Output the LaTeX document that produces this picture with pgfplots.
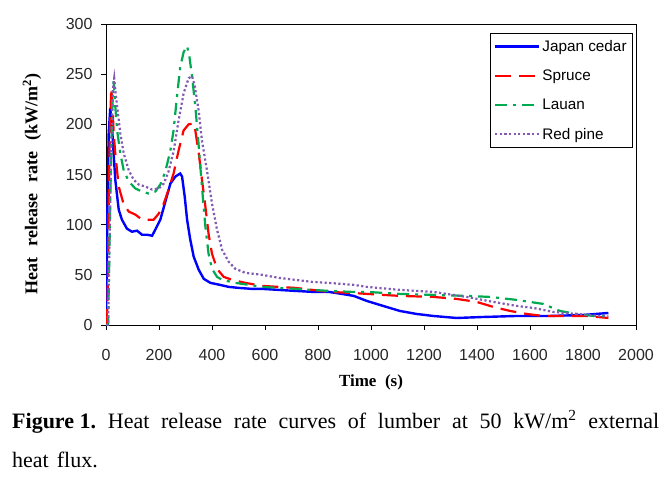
\documentclass[border=0pt]{standalone}
\usepackage{pgfplots}
\pgfplotsset{compat=1.18}
\usepackage{fontspec}
\setmainfont{Liberation Serif}
\newfontfamily\tickfont{Liberation Sans}

\definecolor{cJapan}{RGB}{0,0,255}
\definecolor{cSpruce}{RGB}{255,0,0}
\definecolor{cLauan}{RGB}{0,170,80}
\definecolor{cPine}{RGB}{130,90,180}

\begin{document}
\begin{tikzpicture}
\path[use as bounding box] (0pt,0pt) rectangle (671pt,-481pt);
\begin{axis}[
    at={(106pt,-325pt)}, anchor=south west,
    scale only axis,
    width=530pt, height=301pt,
    xmin=0, xmax=2000, ymin=0, ymax=300,
    xtick={0,200,...,2000},
    ytick={0,50,...,300},
    tick pos=left,
    tick align=outside,
    major tick length=5pt,
    axis line style={line width=0.9pt},
    every tick/.style={black, line width=0.9pt},
    ticklabel style={font=\tickfont\fontsize{16}{18}\selectfont, text=black!85},
    xticklabel style={yshift=-16pt},
    yticklabel style={xshift=-5pt},
    /pgf/number format/assume math mode=true,
    /pgf/number format/1000 sep={},
    legend style={at={(0.994,0.970)}, anchor=north east, draw=black,
        font=\tickfont\fontsize{15.3}{17}\selectfont,
        inner xsep=4pt, inner ysep=5pt, row sep=13pt},
    legend cell align=left,
    legend image code/.code={\path[draw, #1] (0pt,0pt) -- (44pt,0pt);},
]
\addplot[color=cJapan, solid, line width=2.4pt] coordinates {
(0,0) (5,110) (10,190) (16,216) (22,200) (29,170) (35,145) (48,115) (60,105)
(79,96) (98,93) (117,94) (136,90) (155,90) (174,89) (186,95) (205,105)
(224,123) (243,141) (262,148) (280,151) (287,148) (297,128) (306,105)
(318,85) (331,68) (350,55) (369,46) (394,42) (430,40) (463,38) (500,37)
(550,36) (589,36) (650,35) (714,34) (780,33) (840,33) (890,31) (935,29)
(984,24) (1046,19) (1109,14) (1172,11) (1235,9) (1323,7) (1424,8)
(1550,9) (1675,9) (1801,10) (1896,12)
};
\addlegendentry{Japan cedar}
\addplot[color=cSpruce, line width=2.2pt, dash pattern=on 16pt off 8pt] coordinates {
(0,0) (6,20) (10,120) (15,200) (20,236) (25,215) (29,191) (35,171) (48,138)
(67,120) (86,113) (111,110) (136,105) (161,105) (180,105) (199,111)
(218,121) (236,135) (255,151) (274,174) (293,194) (312,200) (331,201)
(337,194) (350,171) (362,145) (375,118) (387,91) (400,71) (419,56)
(444,48) (476,45) (526,42) (589,39) (650,38) (714,37) (780,35) (840,33)
(928,32) (984,31) (1109,29) (1235,28) (1323,26) (1399,23) (1462,18)
(1525,14) (1588,11) (1650,9) (1738,9) (1813,9) (1896,7)
};
\addlegendentry{Spruce}
\addplot[color=cLauan, line width=2.2pt, dash pattern=on 12pt off 6pt on 3pt off 6pt] coordinates {
(0,0) (8,0) (12,60) (18,150) (24,225) (29,243) (35,218) (42,194) (54,171)
(67,154) (86,143) (111,136) (136,133) (161,131) (186,133) (205,140)
(224,153) (243,174) (255,194) (268,228) (280,257) (293,272) (306,278)
(315,267) (325,247) (337,218) (350,178) (362,138) (375,98) (387,71)
(400,56) (419,48) (438,45) (488,42) (589,38) (714,36) (840,34) (928,33)
(984,33) (1109,31) (1235,30) (1361,29) (1449,28) (1550,25) (1650,21)
(1713,14) (1776,11) (1839,9) (1896,9)
};
\addlegendentry{Lauan}
\addplot[color=cPine, line width=2.2pt, dash pattern=on 2.2pt off 2.4pt] coordinates {
(0,0) (8,0) (13,80) (20,180) (27,238) (31,246) (36,232) (42,218) (54,191)
(67,171) (86,154) (104,145) (123,140) (148,138) (174,135) (199,136)
(218,141) (236,153) (255,173) (274,204) (293,231) (312,246) (325,248)
(335,238) (350,213) (362,184) (381,154) (400,121) (419,95) (438,75)
(463,63) (488,56) (526,52) (589,50) (652,47) (714,45) (777,43) (840,42)
(935,40) (984,38) (1109,35) (1235,33) (1361,28) (1462,23) (1550,19)
(1613,17) (1688,13) (1776,11) (1864,9) (1896,9)
};
\addlegendentry{Red pine}
\end{axis}
\node[rotate=90, font=\bfseries\fontsize{18}{20}\selectfont] at (32pt,-184pt)
    {Heat\hspace{11pt}release\hspace{11pt}rate\hspace{11pt}(kW/m\textsuperscript{2})};
\node[font=\bfseries\fontsize{17}{20}\selectfont] at (371pt,-382pt) {Time\ \ (s)};
\node[anchor=base west, inner sep=0pt, font=\fontsize{22}{24}\selectfont] at (12pt,-428pt)
    {\makebox[647pt][s]{\mbox{\textbf{Figure 1.}} Heat release rate curves of lumber at 50 kW/m\textsuperscript{2} external}};
\node[anchor=base west, inner sep=0pt, font=\fontsize{22}{24}\selectfont] at (12pt,-467pt)
    {heat\hspace{8pt}flux.};
\end{tikzpicture}
\end{document}
